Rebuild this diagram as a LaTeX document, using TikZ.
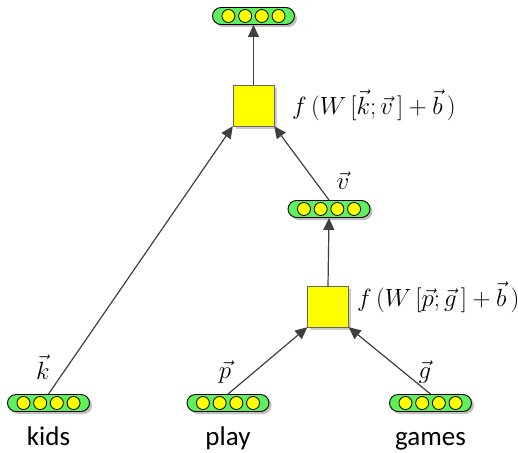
\documentclass[tikz,border=0pt]{standalone}
\usepackage{fontspec}
\newfontfamily\wordfont{Carlito}
\usetikzlibrary{arrows.meta,shadows,calc}
\definecolor{embgreen}{RGB}{95,240,95}
\definecolor{cellyellow}{RGB}{255,255,0}
\definecolor{linegray}{RGB}{64,64,64}
\tikzset{
  emb/.style={draw=black, fill=embgreen, rounded corners=8.5pt, minimum width=82pt,
    minimum height=17pt, inner sep=0pt, line width=0.9pt,
    drop shadow={shadow xshift=2.5pt, shadow yshift=-2.5pt, fill=black!25, opacity=1}},
  cell/.style={draw=black, fill=cellyellow, line width=0.8pt},
  layer/.style={draw=black!60, fill=cellyellow, minimum size=41pt, inner sep=0pt,
    drop shadow={shadow xshift=2.5pt, shadow yshift=-2.5pt, fill=black!20, opacity=1}},
  conn/.style={draw=linegray, line width=1.2pt, -{Triangle[width=11pt,length=12pt]}},
  word/.style={font=\wordfont\fontsize{27}{30}\selectfont, inner sep=0pt, anchor=base},
  vlabel/.style={font=\fontsize{23}{26}\selectfont, inner sep=0pt, anchor=base},
  flabel/.style={font=\fontsize{23}{27}\selectfont, inner sep=0pt, anchor=base west},
}
\newcommand{\embedding}[2]{%
  \node[emb] (#1) at (#2) {};
  \foreach \c in {-1.5,-0.5,0.5,1.5}
    \draw[cell] ($(#1)+(\c*16.7pt,0)$) circle (6.5pt);
}
\begin{document}
\begin{tikzpicture}[x=1pt,y=-1pt]
  \useasboundingbox (0,0) rectangle (518,452);
  \embedding{kids}{48.5,403}
  \embedding{play}{228,403}
  \embedding{games}{430.5,403}
  \embedding{vvec}{329,209}
  \embedding{out}{253.5,16}
  \node[layer] (low) at (328,306.5) {};
  \node[layer] (top) at (253.5,105.5) {};

  \node[word] (wkids) at (48.5,445) {kids};
  \node[word] (wplay) at (228,445) {play};
  \node[word] (wgames) at (430.5,445) {games};

  \node[vlabel] (lk) at (43,379) {$\vec{k}$};
  \node[vlabel] (lp) at (225,378) {$\vec{p}$};
  \node[vlabel] (lg) at (425,378) {$\vec{g}$};
  \node[vlabel] (lv) at (343,189) {$\vec{v}$};
  \node[flabel] (ftop) at (292,114) {$f\,(W\,[\vec{k};\vec{v}\,]+\vec{b}\,)$};
  \node[flabel] (flow) at (357,306) {$f\,(W\,[\vec{p};\vec{g}\,]+\vec{b}\,)$};

  \draw[conn] (kids.north) -- (top.south west);
  \draw[conn] (play.north) -- (low.south west);
  \draw[conn] (games.north) -- (low.south east);
  \draw[conn] (low.north) -- (vvec.south);
  \draw[conn] (vvec.north) -- (top.south east);
  \draw[conn] (top.north) -- (out.south);
\end{tikzpicture}
\end{document}
